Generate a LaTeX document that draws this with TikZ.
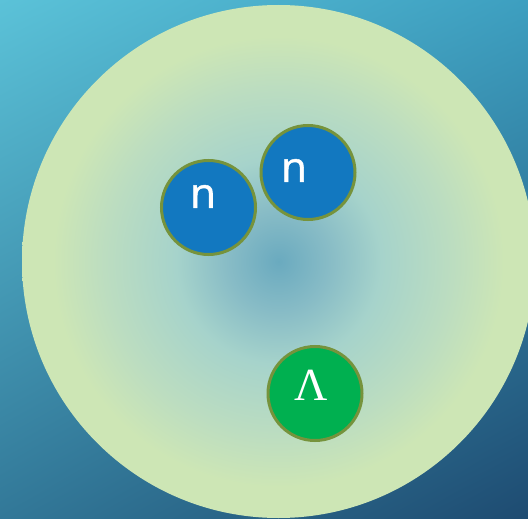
\documentclass[tikz,border=0pt]{standalone}
\usepackage{fontspec}
\usepackage{xcolor}
\usepackage{tikz}
\usetikzlibrary{positioning,calc,shadings}
\newfontfamily\labelsans[FakeBold=1.2]{Open Sans}
\newfontfamily\labelserif{Liberation Serif}
\definecolor{bgTL}{HTML}{5BC2D8}
\definecolor{bgTR}{HTML}{3D9FC0}
\definecolor{bgBL}{HTML}{327898}
\definecolor{bgBR}{HTML}{1E4B71}
\definecolor{glowC}{HTML}{6AAABF}
\definecolor{glowA}{HTML}{88BCC6}
\definecolor{glowM}{HTML}{A6D3CB}
\definecolor{glowB}{HTML}{BCDDC0}
\definecolor{glowE}{HTML}{CDE6B5}
\definecolor{ringc}{HTML}{76933C}
\definecolor{neutronc}{HTML}{1278C0}
\definecolor{lambdac}{HTML}{00B050}
\pgfdeclareradialshading{nucleusglow}{\pgfpoint{0bp}{0bp}}{color(0bp)=(glowC); color(5bp)=(glowA); color(10bp)=(glowM); color(17bp)=(glowB); color(22bp)=(glowE); color(50bp)=(glowE)}

\begin{document}
\begin{tikzpicture}[x=1pt, y=-1pt,
  particle/.style={circle, draw=ringc, line width=3pt, minimum size=94pt, inner sep=0pt},
  neutron/.style={particle, fill=neutronc},
  hyperon/.style={particle, fill=lambdac},
  ntext/.style={text=white, inner sep=0pt, font=\labelsans\fontsize{42}{42}\selectfont},
  ltext/.style={text=white, inner sep=0pt, font=\labelserif\fontsize{46}{46}\selectfont}]
\useasboundingbox (0,0) rectangle (528,519);
\clip (0,0) rectangle (528,519);
\shade[upper left=bgTL, upper right=bgTR, lower left=bgBL, lower right=bgBR] (0,0) rectangle (528,519);
\path[shading=nucleusglow] (278.5,261.5) circle (256.5pt);
\node[neutron] (n1) at (208.5,207.5) {};
\node[neutron] (n2) at (308,172.5) {};
\node[hyperon] (lam) at (315,393.5) {};
\node[ntext] (n1txt) at ([xshift=-5.5pt, yshift=11pt]n1.center) {n};
\node[ntext] (n2txt) at ([xshift=-14pt, yshift=2pt]n2.center) {n};
\node[ltext] (lamtxt) at ([xshift=-4pt, yshift=8pt]lam.center) {Λ};
\end{tikzpicture}
\end{document}
